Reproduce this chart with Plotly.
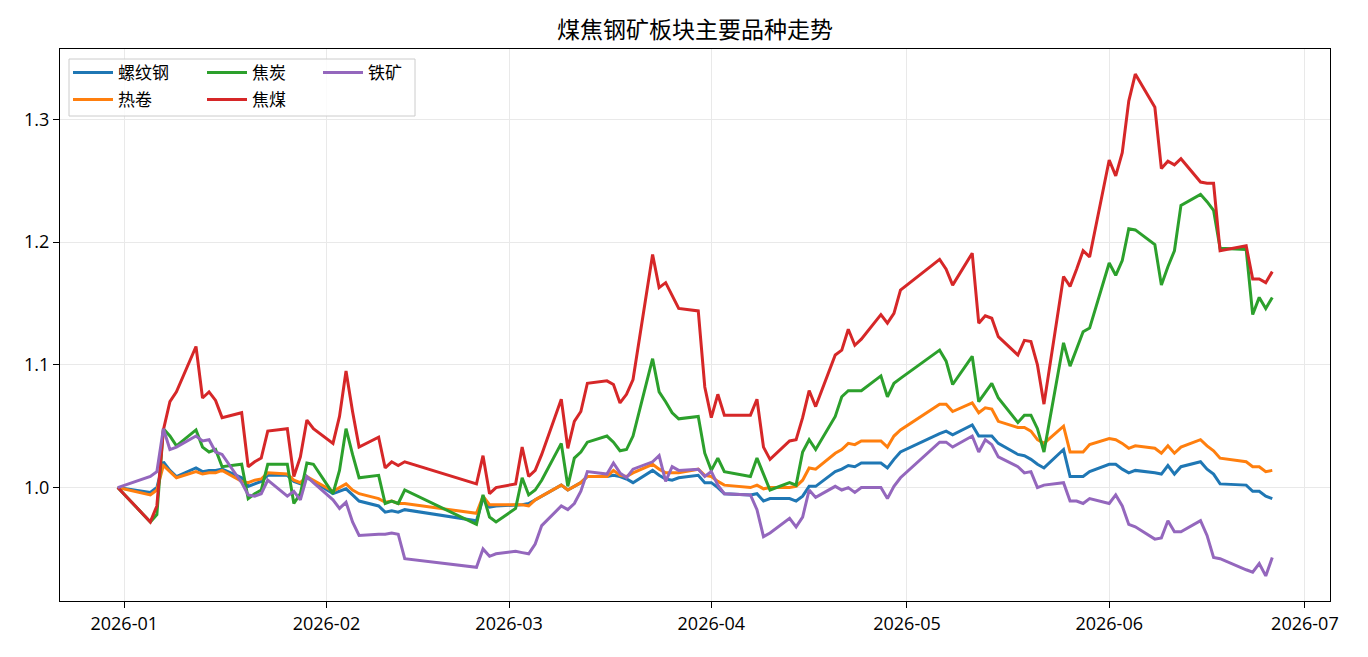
import pandas as pd
import plotly.graph_objects as go

# ---------------- data ----------------
holidays = ['2026-01-01', '2026-01-02', '2026-02-16', '2026-02-17', '2026-02-18',
            '2026-02-19', '2026-02-20', '2026-02-23', '2026-04-06', '2026-05-01',
            '2026-05-04', '2026-05-05', '2026-06-19']
dates = [d for d in pd.bdate_range('2025-12-31', '2026-06-26')
         if d.strftime('%Y-%m-%d') not in holidays]

rebar = [1.000,
         0.996, 1.000, 1.021, 1.014, 1.009, 1.016, 1.013, 1.014, 1.014, 1.015,
         1.008, 1.001, 1.003, 1.005, 1.010, 1.010, 1.005, 1.003, 1.008, 1.005,
         0.995, 0.997, 0.999, 0.994, 0.989, 0.985, 0.980, 0.981, 0.980, 0.982,
         0.973, 0.991, 0.984, 0.985,
         0.986, 0.986, 0.987, 0.990, 0.993, 1.002, 0.998, 1.001, 1.004, 1.009,
         1.009, 1.010, 1.009, 1.007, 1.004, 1.014, 1.010, 1.007, 1.006, 1.008,
         1.010, 1.004,
         1.004, 1.000, 0.995, 0.994, 0.995, 0.989, 0.991, 0.991, 0.989, 0.993,
         1.001, 1.001, 1.013, 1.015, 1.018, 1.017, 1.020, 1.020, 1.016, 1.023,
         1.029,
         1.044, 1.046, 1.043, 1.051, 1.042, 1.042, 1.042, 1.036, 1.027, 1.026,
         1.023, 1.019, 1.016, 1.031, 1.009, 1.009, 1.009, 1.013,
         1.019, 1.019, 1.015, 1.012, 1.014, 1.012, 1.011, 1.018, 1.011, 1.017,
         1.021, 1.015, 1.011, 1.003, 1.002, 0.997, 0.997, 0.993, 0.991]

hrc = [1.000,
       0.994, 0.998, 1.018, 1.013, 1.008, 1.013, 1.011, 1.012, 1.012, 1.014,
       1.005, 1.004, 1.006, 1.007, 1.012, 1.011, 1.006, 1.004, 1.009, 1.006,
       0.997, 1.000, 1.003, 0.998, 0.995, 0.991, 0.988, 0.989, 0.987, 0.987,
       0.979, 0.993, 0.986, 0.986,
       0.986, 0.986, 0.985, 0.990, 0.993, 1.002, 0.998, 1.001, 1.004, 1.009,
       1.009, 1.014, 1.010, 1.009, 1.012, 1.019, 1.015, 1.012, 1.012, 1.012,
       1.015, 1.010,
       1.009, 1.005, 1.002, 1.000, 1.002, 0.999, 1.000, 1.000, 1.001, 1.006,
       1.016, 1.015, 1.028, 1.031, 1.036, 1.035, 1.038, 1.038, 1.033, 1.042,
       1.047,
       1.068, 1.068, 1.062, 1.069, 1.061, 1.065, 1.064, 1.054, 1.049, 1.049,
       1.046, 1.039, 1.036, 1.050, 1.029, 1.029, 1.029, 1.035,
       1.040, 1.039, 1.036, 1.032, 1.034, 1.032, 1.028, 1.034, 1.028, 1.033,
       1.039, 1.034, 1.030, 1.024, 1.021, 1.017, 1.017, 1.013, 1.014]

coke = [1.000,
        0.972, 0.978, 1.048, 1.042, 1.034, 1.047, 1.033, 1.029, 1.031, 1.017,
        1.019, 0.991, 0.995, 0.998, 1.019, 1.019, 0.987, 0.995, 1.020, 1.019,
        0.995, 1.014, 1.048, 1.027, 1.008, 1.010, 0.987, 0.989, 0.987, 0.998,
        0.970, 0.994, 0.976, 0.972,
        0.983, 1.008, 0.994, 0.998, 1.006, 1.036, 1.001, 1.024, 1.029, 1.037,
        1.042, 1.037, 1.030, 1.031, 1.042, 1.105, 1.078, 1.070, 1.061, 1.056,
        1.058, 1.028,
        1.014, 1.024, 1.013, 1.009, 1.024, 1.011, 0.998, 1.004, 1.002, 1.029,
        1.039, 1.031, 1.058, 1.074, 1.079, 1.079, 1.079, 1.091, 1.074, 1.085,
        1.089,
        1.112, 1.103, 1.084, 1.107, 1.070, 1.078, 1.085, 1.073, 1.053, 1.059,
        1.059, 1.048, 1.029, 1.118, 1.099, 1.113, 1.127, 1.130,
        1.183, 1.173, 1.185, 1.211, 1.210, 1.198, 1.165, 1.180, 1.193, 1.230,
        1.239, 1.233, 1.226, 1.195, 1.194, 1.141, 1.155, 1.146, 1.155]

coal = [1.000,
        0.972, 0.985, 1.047, 1.070, 1.078, 1.115, 1.073, 1.078, 1.071, 1.057,
        1.061, 1.017, 1.021, 1.024, 1.046, 1.048, 1.009, 1.025, 1.055, 1.048,
        1.036, 1.058, 1.095, 1.062, 1.033, 1.041, 1.016, 1.021, 1.018, 1.021,
        1.003, 1.026, 0.995, 1.000,
        1.003, 1.033, 1.009, 1.014, 1.027, 1.072, 1.032, 1.054, 1.062, 1.085,
        1.087, 1.084, 1.069, 1.076, 1.088, 1.190, 1.163, 1.167, 1.157, 1.146,
        1.144, 1.082,
        1.057, 1.076, 1.059, 1.059, 1.072, 1.033, 1.023, 1.038, 1.039, 1.057,
        1.079, 1.066, 1.108, 1.112, 1.129, 1.116, 1.121, 1.141, 1.134, 1.142,
        1.161,
        1.186, 1.178, 1.165, 1.191, 1.134, 1.140, 1.138, 1.123, 1.108, 1.120,
        1.119, 1.100, 1.068, 1.172, 1.164, 1.178, 1.193, 1.188,
        1.267, 1.254, 1.273, 1.315, 1.337, 1.310, 1.260, 1.266, 1.263, 1.268,
        1.249, 1.248, 1.248, 1.193, 1.197, 1.170, 1.170, 1.167, 1.176]

ore = [1.000,
       1.009, 1.013, 1.048, 1.031, 1.033, 1.042, 1.038, 1.039, 1.029, 1.027,
       1.004, 0.994, 0.993, 0.995, 1.006, 0.993, 0.997, 0.990, 1.009, 1.004,
       0.990, 0.983, 0.988, 0.972, 0.961, 0.962, 0.962, 0.963, 0.962, 0.942,
       0.935, 0.950, 0.944, 0.946,
       0.948, 0.947, 0.946, 0.954, 0.969, 0.985, 0.982, 0.987, 0.997, 1.013,
       1.011, 1.020, 1.012, 1.008, 1.015, 1.021, 1.026, 1.005, 1.017, 1.014,
       1.015, 1.009,
       1.013, 1.002, 0.995, 0.994, 0.982, 0.960, 0.963, 0.975, 0.968, 0.976,
       0.998, 0.992, 1.001, 0.998, 1.000, 0.996, 1.000, 1.000, 0.991, 1.001,
       1.008,
       1.037, 1.037, 1.033, 1.042, 1.029, 1.039, 1.035, 1.025, 1.017, 1.012,
       1.013, 1.000, 1.002, 1.004, 0.989, 0.989, 0.987, 0.991,
       0.987, 0.994, 0.985, 0.970, 0.968, 0.958, 0.959, 0.973, 0.964, 0.964,
       0.973, 0.961, 0.943, 0.942, 0.933, 0.931, 0.938, 0.928, 0.943]

names = ['螺纹钢', '热卷', '焦炭', '焦煤', '铁矿']
values = [rebar, hrc, coke, coal, ore]
colors = ['#1f77b4', '#ff7f0e', '#2ca02c', '#d62728', '#9467bd']
title = '煤焦钢矿板块主要品种走势'
month_ticks = ['2026-01-01', '2026-02-01', '2026-03-01', '2026-04-01',
               '2026-05-01', '2026-06-01', '2026-07-01']
y_ticks = [1.0, 1.1, 1.2, 1.3]

# ---------------- layout geometry (pixels) ----------------
W, H = 1368, 657
L, R, T, B = 60, 1330, 49, 601
pw, ph = R - L, B - T


def px_x(p):
    return (p - L) / pw


def px_y(p):
    return (B - p) / ph


FONT = 'Open Sans, Noto Sans CJK SC, sans-serif'
CJK = 'Noto Sans CJK SC, sans-serif'

fig = go.Figure()
legend_ids = ['legend', 'legend2', 'legend3', 'legend4', 'legend5']
for nm, vals, col, lid in zip(names, values, colors, legend_ids):
    fig.add_trace(go.Scatter(x=dates, y=vals, mode='lines', name=nm,
                             line=dict(color=col, width=3.0), legend=lid))

# x / y ranges with 5% padding (matplotlib style)
x0, x1 = pd.Timestamp(dates[0]), pd.Timestamp(dates[-1])
span = x1 - x0
xr = [x0 - span * 0.05, x1 + span * 0.05]
allv = [v for s in values for v in s]
vmin, vmax = min(allv), max(allv)
pad = (vmax - vmin) * 0.05
yr = [vmin - pad, vmax + pad]

axis_common = dict(showline=True, linecolor='black', linewidth=1.2, mirror=True,
                   ticks='outside', ticklen=6, tickwidth=1.2, tickcolor='black',
                   showgrid=True, gridcolor='#e9e9e9', gridwidth=1,
                   zeroline=False, tickfont=dict(family=FONT, size=18, color='black'))

fig.update_xaxes(range=xr, tickvals=month_ticks,
                 ticktext=[t[:7] for t in month_ticks], **axis_common)
fig.update_yaxes(range=yr, tickvals=y_ticks,
                 ticktext=['%.1f' % t for t in y_ticks], **axis_common)

# legends: matplotlib-like 3-column grid
col_x = [68, 202, 318]
row_y = [73, 100]
pos = [(0, 0), (0, 1), (1, 0), (1, 1), (2, 0)]
leg_layout = {}
for lid, (c, r) in zip(legend_ids, pos):
    leg_layout[lid] = dict(x=px_x(col_x[c]), y=px_y(row_y[r]), xanchor='left',
                           yanchor='middle', bgcolor='rgba(0,0,0,0)', borderwidth=0,
                           itemwidth=40, font=dict(family=CJK, size=17, color='black'))

fig.update_layout(
    width=W, height=H,
    margin=dict(l=L, r=W - R, t=T, b=H - B),
    paper_bgcolor='white', plot_bgcolor='white',
    showlegend=True,
    title=dict(text=title, x=0.5, xref='paper', xanchor='center',
               y=1 - 30 / H, yref='container', yanchor='middle',
               font=dict(family=CJK, size=23, color='black')),
    shapes=[dict(type='rect', xref='paper', yref='paper',
                 x0=px_x(69), x1=px_x(415), y0=px_y(116), y1=px_y(59),
                 line=dict(color='#cccccc', width=1),
                 fillcolor='rgba(255,255,255,0.8)', layer='above')],
    **leg_layout
)

fig.write_html('out.html')
